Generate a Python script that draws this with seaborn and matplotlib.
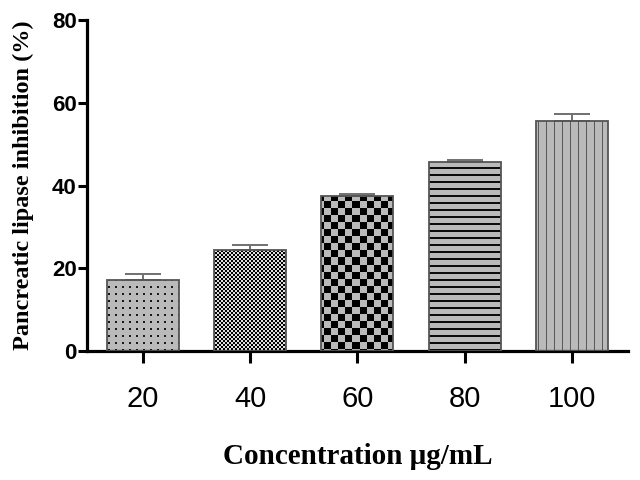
import numpy as np
import pandas as pd
import matplotlib
matplotlib.use("Agg")
import matplotlib.pyplot as plt
import seaborn as sns

# ---- data ----
concentrations = ["20", "40", "60", "80", "100"]
inhibition = [17.1, 24.3, 37.5, 45.6, 55.6]
sem = [1.4, 1.2, 0.5, 0.5, 1.8]
y_ticks = [0, 20, 40, 60, 80]

df = pd.DataFrame({"conc": concentrations, "inh": inhibition})

sns.set_style("ticks")
plt.rcParams["font.family"] = ["Liberation Sans", "DejaVu Sans"]
plt.rcParams["text.color"] = "black"
plt.rcParams["xtick.color"] = "black"
plt.rcParams["ytick.color"] = "black"
plt.rcParams["axes.labelcolor"] = "black"

fig = plt.figure(figsize=(6.4, 4.8), dpi=100)
ax = fig.add_axes([0.136, 0.269, 0.845, 0.689])

sns.barplot(data=df, x="conc", y="inh", order=concentrations, errorbar=None,
            width=0.67, color="#bbbbbb", edgecolor="#555555", linewidth=1.3,
            ax=ax)

ax.set_xlim(-0.52, 4.52)
ax.set_ylim(0, 80)

# ---- textures (pixel patterns), clipped to each bar ----
W = int(round(0.845 * 640))
H = int(round(0.689 * 480))
yy, xx = np.mgrid[0:H, 0:W]
gray = 0.73

def rgb(mask_dark, base, dark):
    img = np.full((H, W, 3), base, dtype=float)
    img[mask_dark] = dark
    return img

t_dots = rgb(((xx % 7) < 2) & ((yy % 7) < 2), gray, 0.1)
t_fine = rgb((((xx // 2) + (yy // 2)) % 2) == 0, 0.88, 0.0)
t_check = rgb((((xx // 7) + (yy // 7)) % 2) == 0, gray, 0.0)
t_hlines = rgb((yy % 7) < 2, gray, 0.05)
t_vlines = rgb(((xx - 3) % 8) == 0, gray, 0.35)
textures = [t_dots, t_fine, t_check, t_hlines, t_vlines]

for patch, tex in zip(ax.patches, textures):
    im = ax.imshow(tex, extent=(0, 1, 0, 1), transform=ax.transAxes,
                   aspect="auto", interpolation="nearest", zorder=1.5)
    im.set_clip_path(patch)
    patch.set_facecolor("none")
    patch.set_zorder(3)

ax.set_xlim(-0.52, 4.52)
ax.set_ylim(0, 80)

# ---- error bars (upper only) ----
xpos = np.arange(len(concentrations))
ax.errorbar(xpos, inhibition, yerr=[np.zeros(len(sem)), sem], fmt="none",
            ecolor="#707070", elinewidth=1.4, capsize=13, capthick=1.4,
            zorder=2.5)

# ---- axes styling ----
sns.despine(ax=ax)
for s in ["left", "bottom"]:
    ax.spines[s].set_linewidth(2.3)
    ax.spines[s].set_color("black")
ax.set_yticks(y_ticks)
ax.tick_params(axis="y", length=6.5, width=2.2, pad=1, labelsize=16,
               colors="black")
ax.tick_params(axis="x", length=8.5, width=2.2, pad=16, labelsize=21,
               colors="black")
for lab in ax.get_yticklabels():
    lab.set_fontweight("bold")

ax.set_xlabel("Concentration \u03bcg/mL", family=["Liberation Serif", "DejaVu Serif"],
              fontsize=21, fontweight="bold", labelpad=22, color="black")
ax.set_ylabel("Pancreatic lipase inhibition (%)",
              family=["Liberation Serif", "DejaVu Serif"],
              fontsize=17.5, fontweight="bold", color="black")
ax.yaxis.set_label_coords(-0.098, 0.5)

fig.savefig("out.png", dpi=100, facecolor="white")
